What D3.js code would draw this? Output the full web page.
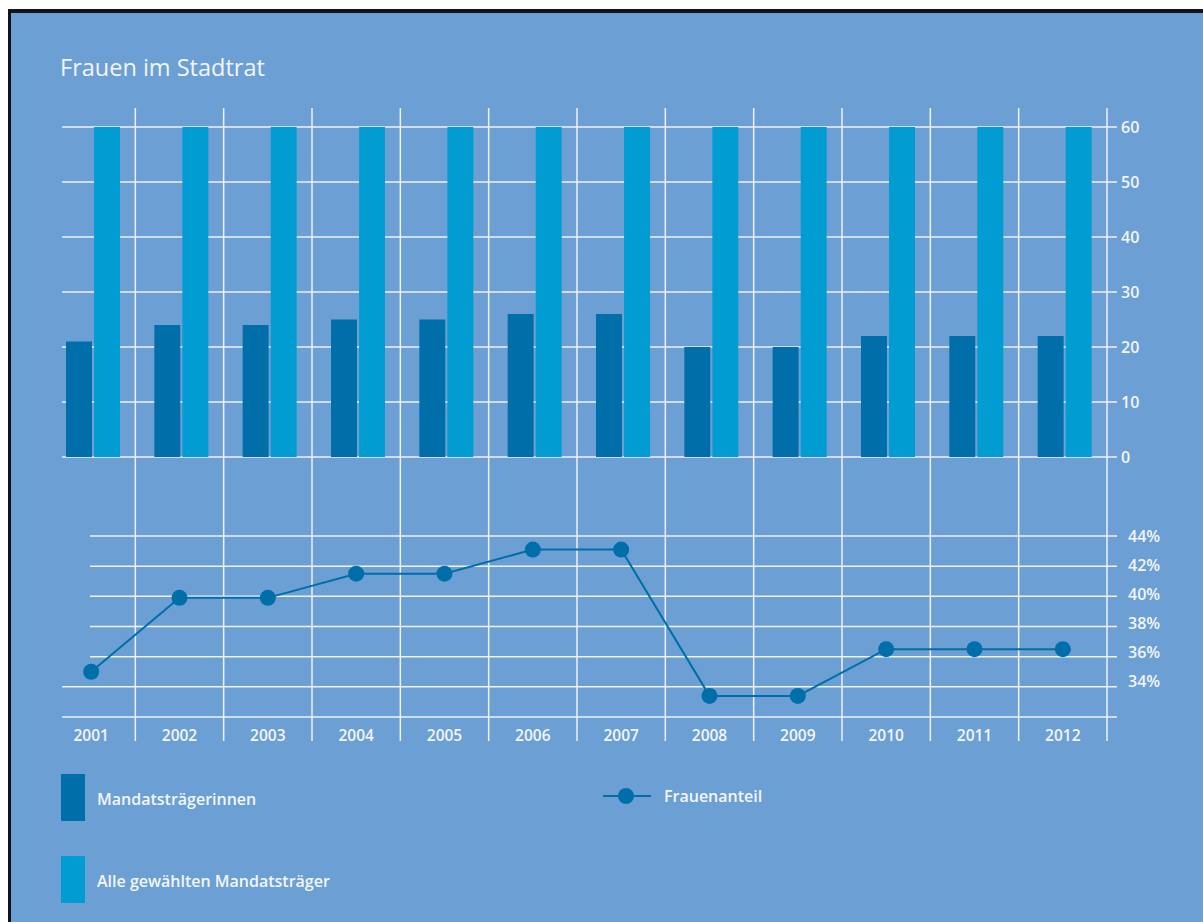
<!DOCTYPE html>
<html lang="de">
<head>
  <meta charset="UTF-8">
  <title>Frauen im Stadtrat</title>
  <script src="https://d3js.org/d3.v7.min.js"></script>
  <style>
    body { margin: 0; background: #fff; }
    svg { display: block; }
    text { font-family: "Open Sans", sans-serif; fill: #f3f6fb; font-weight: 600; }
    text.title { font-weight: 400; }
    .grid { stroke: #eef2f9; stroke-width: 1.5; }
  </style>
</head>
<body>
  <svg width="1203" height="922"></svg>

  <script>
    // Daten
    const years = ["2001", "2002", "2003", "2004", "2005", "2006", "2007", "2008", "2009", "2010", "2011", "2012"];
    const frauen = [21, 24, 24, 25, 25, 26, 26, 20, 20, 22, 22, 22];
    const alle = [60, 60, 60, 60, 60, 60, 60, 60, 60, 60, 60, 60];
    const anteil = [35.0, 39.9, 39.9, 41.5, 41.5, 43.1, 43.1, 33.4, 33.4, 36.5, 36.5, 36.5];
    const barTicks = [0, 10, 20, 30, 40, 50, 60];
    const pctTicks = [34, 36, 38, 40, 42, 44];

    const colDark = "#006ea9";
    const colLight = "#019dd2";
    const bg = "#6c9fd4";

    const svg = d3.select("svg");

    // Hintergrund mit schwarzem Rand oben/links
    svg.append("rect").attr("x", 8).attr("y", 9).attr("width", 1195).attr("height", 913).attr("fill", "#14121c");
    svg.append("rect").attr("x", 11).attr("y", 13).attr("width", 1192).attr("height", 909).attr("fill", bg);

    svg.append("text")
        .attr("class", "title")
        .attr("x", 60).attr("y", 76)
        .attr("font-size", 23.5)
        .text("Frauen im Stadtrat");

    const x = d3.scaleBand().domain(years).range([47, 1107]);
    const xSub = d3.scaleBand().domain(["frauen", "alle"]).range([19, 73]).paddingInner(0.075);
    const yBar = d3.scaleLinear().domain([0, 60]).range([457, 127]);
    const yPct = d3.scaleLinear().domain([32, 44]).range([717, 536]);

    // vertikale Linien
    svg.append("g").selectAll("line")
      .data(years)
      .join("line")
        .attr("class", "grid")
        .attr("x1", d => x(d) + x.bandwidth())
        .attr("x2", d => x(d) + x.bandwidth())
        .attr("y1", 108).attr("y2", 741);

    // Balken-Gitter
    svg.append("g").selectAll("line")
      .data(barTicks)
      .join("line")
        .attr("class", "grid")
        .attr("x1", 62).attr("x2", 1117)
        .attr("y1", d => yBar(d)).attr("y2", d => yBar(d));

    // Prozent-Gitter
    svg.append("g").selectAll("line")
      .data(pctTicks.concat([32]))
      .join("line")
        .attr("class", "grid")
        .attr("x1", d => d <= 34 ? 62 : 90).attr("x2", 1117)
        .attr("y1", d => yPct(d)).attr("y2", d => yPct(d));

    // Balken
    const grp = svg.append("g").selectAll("g")
      .data(years)
      .join("g")
        .attr("transform", d => `translate(${x(d)},0)`);

    grp.append("rect")
        .attr("x", xSub("frauen"))
        .attr("width", xSub.bandwidth())
        .attr("y", (d, i) => yBar(frauen[i]))
        .attr("height", (d, i) => yBar(0) - yBar(frauen[i]))
        .attr("fill", colDark);

    grp.append("rect")
        .attr("x", xSub("alle"))
        .attr("width", xSub.bandwidth())
        .attr("y", (d, i) => yBar(alle[i]))
        .attr("height", (d, i) => yBar(0) - yBar(alle[i]))
        .attr("fill", colLight);

    // Achsenbeschriftung rechts
    svg.append("g").selectAll("text")
      .data(barTicks)
      .join("text")
        .attr("x", 1121)
        .attr("y", d => yBar(d))
        .attr("dy", "0.35em")
        .attr("font-size", 16)
        .text(d => d);

    svg.append("g").selectAll("text")
      .data(pctTicks)
      .join("text")
        .attr("x", 1128)
        .attr("y", d => yPct(d) - (44 - d) * 0.5)
        .attr("dy", "0.35em")
        .attr("font-size", 16)
        .text(d => d + "%");

    // Jahre
    svg.append("g").selectAll("text")
      .data(years)
      .join("text")
        .attr("x", d => x(d) + x.bandwidth() / 2)
        .attr("y", 736)
        .attr("dy", "0.35em")
        .attr("text-anchor", "middle")
        .attr("font-size", 15.5)
        .text(d => d);

    // Linie Frauenanteil
    const line = d3.line()
        .x((d, i) => x(years[i]) + x.bandwidth() / 2)
        .y(d => yPct(d));

    svg.append("path")
        .datum(anteil)
        .attr("d", line)
        .attr("fill", "none")
        .attr("stroke", colDark)
        .attr("stroke-width", 2);

    svg.append("g").selectAll("circle")
      .data(anteil)
      .join("circle")
        .attr("cx", (d, i) => x(years[i]) + x.bandwidth() / 2)
        .attr("cy", d => yPct(d))
        .attr("r", 8)
        .attr("fill", colDark);

    // Legende
    const legend = svg.append("g");
    legend.append("rect").attr("x", 61).attr("y", 774).attr("width", 24).attr("height", 47).attr("fill", colDark);
    legend.append("text").attr("x", 97).attr("y", 799).attr("dy", "0.35em").attr("font-size", 16).text("Mandatsträgerinnen");
    legend.append("rect").attr("x", 61).attr("y", 856).attr("width", 24).attr("height", 47).attr("fill", colLight);
    legend.append("text").attr("x", 97).attr("y", 881).attr("dy", "0.35em").attr("font-size", 16).text("Alle gewählten Mandatsträger");

    legend.append("line").attr("x1", 603).attr("x2", 651).attr("y1", 796).attr("y2", 796)
        .attr("stroke", colDark).attr("stroke-width", 2);
    legend.append("circle").attr("cx", 626).attr("cy", 796).attr("r", 8).attr("fill", colDark);
    legend.append("text").attr("x", 664).attr("y", 796).attr("dy", "0.35em").attr("font-size", 16).text("Frauenanteil");
  </script>
</body>
</html>
